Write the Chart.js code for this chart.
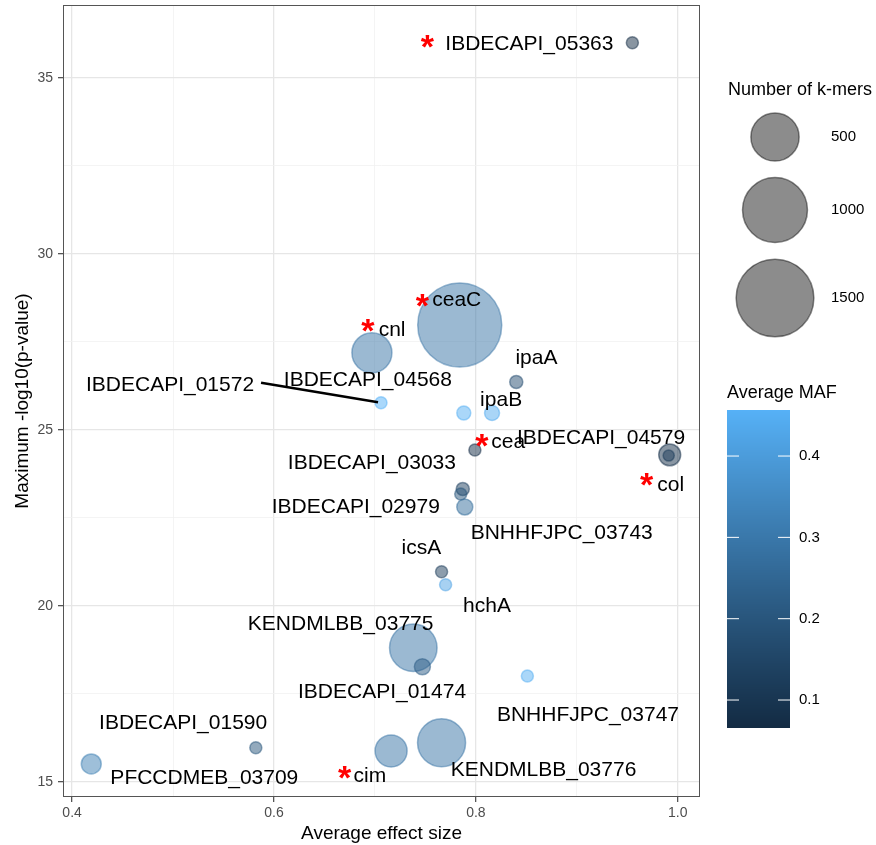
<!DOCTYPE html>
<html><head><meta charset="utf-8">
<script src="https://cdn.jsdelivr.net/npm/chart.js@4.4.0/dist/chart.umd.min.js"></script>
<style>html,body{margin:0;padding:0;background:#fff;}#wrap{width:876px;height:845px;}</style>
</head><body><div id="wrap"><canvas id="c" width="876" height="845"></canvas></div>
<script>
// ---------------- data ----------------
const genes = ["IBDECAPI_05363","ceaC","cnl","ipaA","IBDECAPI_01572","IBDECAPI_04568","ipaB","cea",
  "IBDECAPI_04579","col","IBDECAPI_03033","BNHHFJPC_03743","IBDECAPI_02979","icsA","hchA",
  "KENDMLBB_03775","IBDECAPI_01474","BNHHFJPC_03747","KENDMLBB_03776","cim","IBDECAPI_01590","PFCCDMEB_03709"];
const effectSize = [0.955,0.784,0.697,0.840,0.706,0.788,0.816,0.799,0.992,0.991,0.787,0.785,0.789,0.766,0.770,
  0.738,0.747,0.851,0.766,0.716,0.582,0.419];
const maxLogP = [36.0,27.98,27.19,26.36,25.77,25.48,25.48,24.43,24.29,24.27,23.32,23.18,22.81,20.97,20.60,
  18.81,18.27,18.01,16.11,15.88,15.97,15.51];
const kmers = [5,1783,316,8,5,11,15,5,60,3,8,5,20,5,5,482,20,5,494,178,5,44];
const maf = [0.066,0.29,0.29,0.17,0.456,0.45,0.44,0.07,0.075,0.12,0.14,0.20,0.27,0.12,0.42,
  0.29,0.22,0.45,0.29,0.29,0.20,0.32];
const starred = [true,true,true,false,false,false,false,true,false,true,false,false,false,false,false,
  false,false,false,false,true,false,false];
// label placement (data units, as a repel algorithm would output)
const labelX = [0.853,0.781,0.717,0.860,0.497,0.693,0.825,0.832,0.924,0.993,0.697,0.885,0.681,0.746,0.811,
  0.666,0.707,0.911,0.867,0.695,0.510,0.531];
const labelY = [35.97,28.69,27.84,27.05,26.28,26.42,25.85,24.66,24.77,23.44,24.06,22.07,22.81,21.65,20.0,
  19.49,17.56,16.88,15.34,15.17,16.68,15.09];
const starX = [0.752,0.747,0.693,null,null,null,null,0.806,null,0.969,null,null,null,null,null,null,null,null,null,0.670,null,null];
const starY = [36.14,28.78,28.07,null,null,null,null,24.80,null,23.69,null,null,null,null,null,null,null,null,null,15.37,null,null];
const segmentLabels = ["IBDECAPI_01572"];
const xTickLabels = [0.4,0.6,0.8,1.0];
const yTickLabels = [15,20,25,30,35];
const sizeLegendValues = [500,1000,1500];
const mafTicks = [0.1,0.2,0.3,0.4];
const mafRange = [0.0656,0.4566];

// ---------------- helpers ----------------
const FONT = '"Liberation Sans", Arial, Helvetica, sans-serif';
function radiusFor(n){ return 4 + 0.9*Math.sqrt(n); }
function s2l(c){c/=255;return c<=0.04045?c/12.92:Math.pow((c+0.055)/1.055,2.4);}
function l2s(c){const v=c<=0.0031308?12.92*c:1.055*Math.pow(c,1/2.4)-0.055;return Math.round(Math.max(0,Math.min(1,v))*255);}
function rgb2lab(rgb){const R=s2l(rgb[0]),G=s2l(rgb[1]),B=s2l(rgb[2]);
  const X=(R*0.4124+G*0.3576+B*0.1805)/0.95047,Y=R*0.2126+G*0.7152+B*0.0722,Z=(R*0.0193+G*0.1192+B*0.9505)/1.08883;
  const f=t=>t>0.008856?Math.cbrt(t):7.787*t+16/116;
  return [116*f(Y)-16,500*(f(X)-f(Y)),200*(f(Y)-f(Z))];}
function lab2rgb(lab){const fy=(lab[0]+16)/116,fx=fy+lab[1]/500,fz=fy-lab[2]/200;
  const fi=t=>t*t*t>0.008856?t*t*t:(t-16/116)/7.787;
  const X=fi(fx)*0.95047,Y=fi(fy),Z=fi(fz)*1.08883;
  return [l2s(X*3.2406-Y*1.5372-Z*0.4986),l2s(-X*0.9689+Y*1.8758+Z*0.0415),l2s(X*0.0557-Y*0.2040+Z*1.0570)];}
const LOW = rgb2lab([0x13,0x2B,0x43]), HIGH = rgb2lab([0x56,0xB1,0xF7]);
function mafRGB(v){let t=(v-mafRange[0])/(mafRange[1]-mafRange[0]);t=Math.max(0,Math.min(1,t));
  return lab2rgb([LOW[0]+(HIGH[0]-LOW[0])*t,LOW[1]+(HIGH[1]-LOW[1])*t,LOW[2]+(HIGH[2]-LOW[2])*t]);}
function mafColor(v,a){const c=mafRGB(v);return `rgba(${c[0]},${c[1]},${c[2]},${a})`;}
const isMajorX = v => xTickLabels.some(t=>Math.abs(t-v)<1e-6);
const isMajorY = v => yTickLabels.some(t=>Math.abs(t-v)<1e-6);

// ---------------- annotation / legend plugin ----------------
const overlay = {
  id:'overlay',
  afterDatasetsDraw(chart){
    const {ctx, chartArea:a, scales:{x,y}} = chart;
    ctx.save();
    // panel border
    ctx.strokeStyle='#555'; ctx.lineWidth=1;
    ctx.strokeRect(a.left+0.5,a.top+0.5,a.right-a.left-1,a.bottom-a.top-1);
    // labels
    ctx.font = `21px ${FONT}`; ctx.fillStyle='#000'; ctx.textAlign='center'; ctx.textBaseline='middle';
    genes.forEach((g,i)=>{
      const lx=x.getPixelForValue(labelX[i]), ly=y.getPixelForValue(labelY[i]);
      ctx.fillText(g,lx,ly);
      if(segmentLabels.includes(g)){
        const w=ctx.measureText(g).width;
        const sx=lx+w/2+7, sy=ly-2;
        const px=x.getPixelForValue(effectSize[i]), py=y.getPixelForValue(maxLogP[i]);
        const dx=px-sx, dy=py-sy, d=Math.hypot(dx,dy);
        ctx.save(); ctx.strokeStyle='#000'; ctx.lineWidth=2.5; ctx.beginPath();
        ctx.moveTo(sx,sy); ctx.lineTo(px-dx/d*3,py-dy/d*3); ctx.stroke(); ctx.restore();
      }
    });
    // red stars
    const fs=34;
    ctx.font=`bold ${fs}px ${FONT}`; ctx.fillStyle='#ff0000'; ctx.textBaseline='alphabetic';
    genes.forEach((g,i)=>{
      if(!starred[i]) return;
      ctx.fillText('*', x.getPixelForValue(starX[i]), y.getPixelForValue(starY[i])+0.6*fs);
    });
    // size legend
    ctx.textAlign='left'; ctx.textBaseline='middle'; ctx.fillStyle='#000';
    ctx.font=`18px ${FONT}`;
    ctx.fillText('Number of k-mers',728,90);
    const cy=[137,210,298];
    ctx.font=`15px ${FONT}`;
    sizeLegendValues.forEach((v,k)=>{
      const r=radiusFor(v);
      ctx.beginPath(); ctx.arc(775,cy[k],r,0,Math.PI*2);
      ctx.fillStyle='rgba(0,0,0,0.45)'; ctx.fill();
      ctx.strokeStyle='rgba(0,0,0,0.45)'; ctx.lineWidth=1.5; ctx.stroke();
      ctx.fillStyle='#000'; ctx.fillText(String(v),831,cy[k]);
    });
    // colour bar
    ctx.font=`18px ${FONT}`;
    ctx.fillText('Average MAF',727,393);
    const bx=727,bw=63,bt=410,bb=728;
    for(let py=bt;py<bb;py++){
      const v=mafRange[1]-(py-bt+0.5)/(bb-bt)*(mafRange[1]-mafRange[0]);
      ctx.fillStyle=mafColor(v,1); ctx.fillRect(bx,py,bw,1);
    }
    ctx.font=`15px ${FONT}`;
    mafTicks.forEach(v=>{
      const py=bb-(v-mafRange[0])/(mafRange[1]-mafRange[0])*(bb-bt);
      ctx.strokeStyle='#fff'; ctx.lineWidth=1;
      ctx.beginPath(); ctx.moveTo(bx,py); ctx.lineTo(bx+12,py); ctx.moveTo(bx+bw-12,py); ctx.lineTo(bx+bw,py); ctx.stroke();
      ctx.fillStyle='#000'; ctx.fillText(v.toFixed(1),799,py);
    });
    ctx.restore();
  }
};

const tickFont = {family:FONT,size:14};
new Chart(document.getElementById('c').getContext('2d'),{
  type:'bubble',
  data:{datasets:[{
    data: effectSize.map((v,i)=>({x:v,y:maxLogP[i],r:radiusFor(kmers[i])})),
    backgroundColor: c=>mafColor(maf[c.dataIndex],0.5),
    borderColor: c=>mafColor(maf[c.dataIndex],0.5),
    borderWidth:1.5, hoverRadius:0, clip:false
  }]},
  options:{
    responsive:false, animation:false, devicePixelRatio:1,
    layout:{autoPadding:false,padding:{left:0,right:176,top:5,bottom:0}},
    plugins:{legend:{display:false},tooltip:{enabled:false}},
    events:[],
    scales:{
      x:{type:'linear',min:0.391,max:1.022,
        afterFit:s=>{s.height=48;s.paddingLeft=0;s.paddingRight=0;},
        afterBuildTicks:s=>{s.ticks=[0.4,0.5,0.6,0.7,0.8,0.9,1.0].map(v=>({value:v}));},
        ticks:{autoSkip:false,maxRotation:0,padding:3,color:'#4d4d4d',font:tickFont,
          callback:v=>isMajorX(v)?v.toFixed(1):''},
        grid:{color:c=>c.tick&&isMajorX(c.tick.value)?'#e6e6e6':'#f1f1f1',
          lineWidth:c=>c.tick&&isMajorX(c.tick.value)?1.3:0.8,
          tickLength:5, tickColor:c=>c.tick&&isMajorX(c.tick.value)?'#555':'rgba(0,0,0,0)'},
        border:{display:false},
        title:{display:true,text:'Average effect size',color:'#000',font:{family:FONT,size:19},padding:{top:2,bottom:0}}
      },
      y:{type:'linear',min:14.57,max:37.07,
        afterFit:s=>{s.width=63;s.paddingTop=0;s.paddingBottom=0;},
        afterBuildTicks:s=>{s.ticks=[15,17.5,20,22.5,25,27.5,30,32.5,35].map(v=>({value:v}));},
        ticks:{autoSkip:false,padding:5,color:'#4d4d4d',font:tickFont,
          callback:v=>isMajorY(v)?String(v):''},
        grid:{color:c=>c.tick&&isMajorY(c.tick.value)?'#e6e6e6':'#f1f1f1',
          lineWidth:c=>c.tick&&isMajorY(c.tick.value)?1.3:0.8,
          tickLength:5, tickColor:c=>c.tick&&isMajorY(c.tick.value)?'#555':'rgba(0,0,0,0)'},
        border:{display:false},
        title:{display:true,text:'Maximum -log10(p-value)',color:'#000',font:{family:FONT,size:19},padding:{top:11,bottom:0}}
      }
    }
  },
  plugins:[overlay]
});
</script></body></html>
